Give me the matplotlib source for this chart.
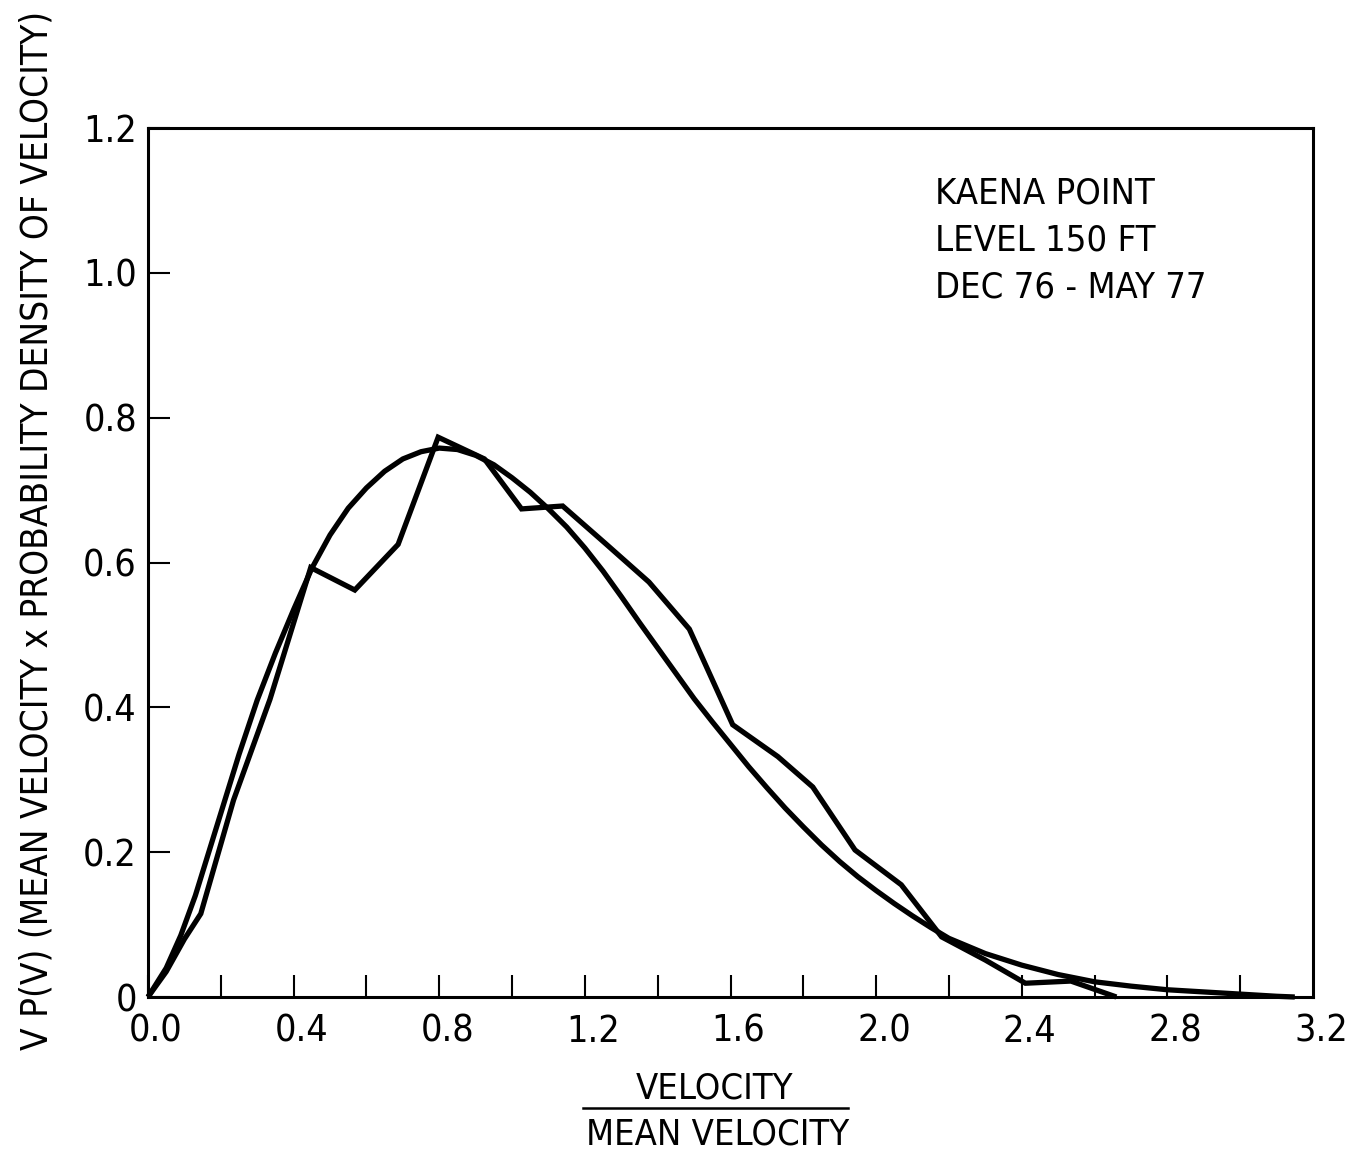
import matplotlib
matplotlib.use("Agg")
import matplotlib.pyplot as plt
from matplotlib.lines import Line2D
from matplotlib.ticker import FixedLocator, FuncFormatter
import matplotlib.transforms as mtransforms

plt.rcParams['font.family'] = ['DejaVu Sans']
plt.rcParams['font.stretch'] = 'condensed'

# Measured distribution (velocity / mean velocity, V*P(V))
measured_x = [0.0, 0.05, 0.10, 0.145, 0.235, 0.335, 0.447, 0.568, 0.687, 0.797,
              0.924, 1.026, 1.139, 1.257, 1.376, 1.487, 1.606, 1.730, 1.826,
              1.942, 2.069, 2.180, 2.300, 2.410, 2.535, 2.660]
measured_y = [0.0, 0.035, 0.080, 0.115, 0.272, 0.411, 0.593, 0.562, 0.625, 0.773,
              0.743, 0.674, 0.678, 0.626, 0.573, 0.508, 0.376, 0.332, 0.290,
              0.203, 0.155, 0.083, 0.051, 0.019, 0.022, 0.0]

# Fitted distribution curve
fit_x = [0.0, 0.05, 0.09, 0.13, 0.17, 0.21, 0.25, 0.30, 0.35, 0.40, 0.45,
         0.50, 0.55, 0.60, 0.65, 0.70, 0.75, 0.80, 0.85, 0.90, 0.95, 1.00,
         1.05, 1.10, 1.15, 1.20, 1.25, 1.30, 1.35, 1.40, 1.45, 1.50, 1.55,
         1.60, 1.65, 1.70, 1.75, 1.80, 1.85, 1.90, 1.95, 2.00, 2.05, 2.10,
         2.15, 2.20, 2.30, 2.40, 2.50, 2.60, 2.70, 2.80, 2.90, 3.00, 3.10,
         3.15]
fit_y = [0.0, 0.040, 0.085, 0.140, 0.205, 0.270, 0.335, 0.410, 0.475, 0.535,
         0.592, 0.638, 0.675, 0.703, 0.726, 0.743, 0.753, 0.758, 0.756, 0.748,
         0.735, 0.717, 0.697, 0.674, 0.649, 0.620, 0.588, 0.553, 0.517, 0.482,
         0.447, 0.412, 0.380, 0.349, 0.318, 0.289, 0.261, 0.235, 0.210, 0.187,
         0.166, 0.147, 0.129, 0.112, 0.096, 0.081, 0.060, 0.044, 0.031, 0.021,
         0.015, 0.010, 0.007, 0.004, 0.001, 0.0]

x_tick_values = [0.0, 0.4, 0.8, 1.2, 1.6, 2.0, 2.4, 2.8, 3.2]
x_minor_values = [0.2, 0.6, 1.0, 1.4, 1.8, 2.2, 2.6, 3.0]
y_tick_values = [0.0, 0.2, 0.4, 0.6, 0.8, 1.0, 1.2]
y_tick_labels = ["0", "0.2", "0.4", "0.6", "0.8", "1.0", "1.2"]

site_lines = ["KAENA POINT", "LEVEL 150 FT", "DEC 76 - MAY 77"]

fig = plt.figure(figsize=(13.53, 11.56), dpi=100)
ax = fig.add_axes([148 / 1353, 159 / 1156, 1165 / 1353, 869 / 1156])

lw = 3.8
ax.plot(fit_x, fit_y, color="black", lw=lw, solid_joinstyle="round",
        solid_capstyle="butt", clip_on=False)
ax.plot(measured_x, measured_y, color="black", lw=lw, solid_joinstyle="miter",
        solid_capstyle="butt", clip_on=False)

ax.set_xlim(0, 3.2)
ax.set_ylim(0, 1.2)

for s in ax.spines.values():
    s.set_linewidth(2.2)

ax.xaxis.set_major_locator(FixedLocator(x_tick_values))
ax.xaxis.set_minor_locator(FixedLocator(x_minor_values))
ax.xaxis.set_major_formatter(FuncFormatter(lambda v, p: f"{v:.1f}"))
ax.yaxis.set_major_locator(FixedLocator(y_tick_values))
ax.set_yticklabels(y_tick_labels)

ax.tick_params(axis="x", which="both", direction="in", length=16, width=1.5,
               labelsize=27, pad=12)
ax.tick_params(axis="y", which="major", direction="in", length=16, width=1.5,
               labelsize=27, pad=8)

# nudge the x tick labels slightly right of their ticks
offset = mtransforms.ScaledTranslation(8 / 100, 0, fig.dpi_scale_trans)
for lab in ax.get_xticklabels():
    lab.set_transform(lab.get_transform() + offset)
# the 3.2 tick sits on the right frame; hide its mark
ax.xaxis.get_major_ticks()[-1].tick1line.set_visible(False)

# Site annotation
for i, t in enumerate(site_lines):
    ax.text(0.6755, 0.925 - i * 0.054, t, transform=ax.transAxes,
            fontsize=26, va="center", ha="left")

# Axis titles
fig.text(0.528, 0.0588, "VELOCITY", fontsize=26, ha="center", va="center")
fig.text(0.530, 0.0182, "MEAN VELOCITY", fontsize=26, ha="center", va="center")
fig.add_artist(Line2D([583 / 1353, 848 / 1353], [0.0415, 0.0415],
                      color="black", lw=1.8, transform=fig.transFigure))

fig.text(0.027, 0.5415,
         "V P(V) (MEAN VELOCITY x PROBABILITY DENSITY OF VELOCITY)",
         fontsize=26.5, rotation=90, ha="center", va="center")

fig.savefig("out.png", dpi=100, facecolor="white")
